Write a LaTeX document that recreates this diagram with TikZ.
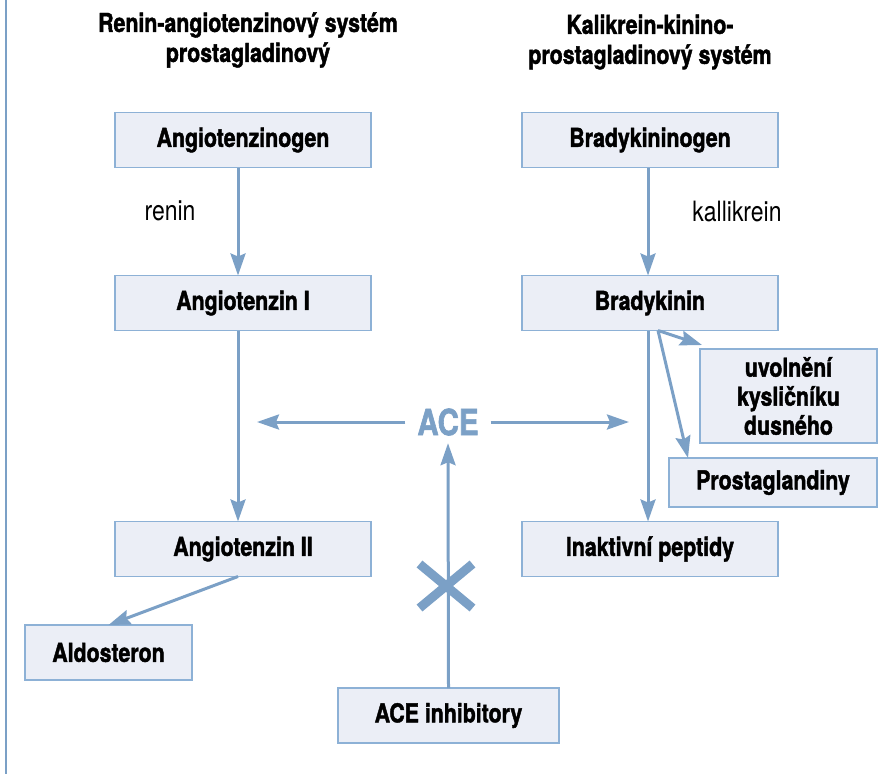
\documentclass[tikz,border=0pt]{standalone}
\usepackage{fontspec}
\setmainfont{TeX Gyre Heros}[FakeStretch=0.82, BoldFeatures={FakeBold=1.6}]
\usepackage{tikz}
\usetikzlibrary{positioning}
\usetikzlibrary{shapes.misc,arrows.meta}
\definecolor{aceblue}{HTML}{7BA0C6}
\definecolor{boxline}{HTML}{8DB1D6}
\definecolor{boxfill}{HTML}{EBEEF6}
\tikzstyle{block} = [rectangle, draw=boxline, fill=boxfill, line width=1.4pt,
                minimum width=256pt, minimum height=55pt, inner sep=0pt, outer sep=0pt,
                align=center, font=\fontsize{26}{29}\selectfont\bfseries]
\tikzstyle{line} = [draw=aceblue, line width=3pt, -{Stealth[length=22pt,width=15pt,inset=3pt]}]
\tikzstyle{enzyme} = [font=\fontsize{28}{30}\selectfont]
\tikzstyle{title} = [align=center, font=\fontsize{26}{30}\selectfont\bfseries]

\begin{document}
\begin{tikzpicture}[x=1pt, y=1pt]
            \useasboundingbox (0,0) rectangle (882,-774);
            \draw[aceblue, line width=2pt] (6,0) -- (6,-774);
            \node[title] (lefttitle) at (248,-40) {Renin-angiotenzinový systém\\ prostagladinový};
            \node[title] (righttitle) at (650,-42) {Kalikrein-kinino-\\ prostagladinový systém};
            \node[block] (angen) at (243,-140) {Angiotenzinogen};
            \node[block, right=151pt of angen] (bkgen) {Bradykininogen};
            \node[block, below=108pt of angen] (ang1) {Angiotenzin I};
            \node[block, below=108pt of bkgen] (bkin) {Bradykinin};
            \node[block, below=191pt of ang1] (ang2) {Angiotenzin II};
            \node[block, below=191pt of bkin] (inakt) {Inaktivní peptidy};
            \node[block, minimum width=167pt] (aldo) at (108.5,-652.5) {Aldosteron};
            \node[block, minimum width=177pt, minimum height=94pt] (no) at (788.5,-396) {uvolnění\\ kysličníku\\ dusného};
            \node[block, minimum width=208pt, minimum height=49pt] (prost) at (773,-482.5) {Prostaglandiny};
            \node[block, minimum width=221pt] (inhib) at (448.5,-715.5) {ACE inhibitory};
            \node[enzyme] (renin) at (170,-211) {renin};
            \node[enzyme] (kalli) at (737,-211) {kallikrein};
            \node[text=aceblue, minimum width=85pt, minimum height=42pt, inner sep=0pt,
                  font=\fontsize{36}{40}\selectfont\bfseries] (ace) at (448,-422) {ACE};
            \coordinate (aceleft) at (257,-422);
            \coordinate (aceright) at (629,-422);
            \coordinate (fork) at ([xshift=8pt]bkin.south);
            \node[cross out, draw=aceblue, line width=9pt, minimum width=44pt, minimum height=35pt] (block) at (446,-586) {};
            \path[line] ([xshift=-5pt]angen.south) -- ([xshift=-5pt]ang1.north);
            \path[line] ([xshift=-2pt]bkgen.south) -- ([xshift=-2pt]bkin.north);
            \path[line] ([xshift=-5pt]ang1.south) -- ([xshift=-5pt]ang2.north);
            \path[line] ([xshift=-5pt]ang2.south) -- (aldo.north);
            \path[line] ([xshift=-2pt]bkin.south) -- ([xshift=-2pt]inakt.north);
            \path[line] (fork) -- ([xshift=2pt,yshift=4pt]no.north west);
            \path[line] (fork) -- ([xshift=19pt]prost.north west);
            \path[line] (ace.west) -- (aceleft);
            \path[line] (ace.east) -- (aceright);
            \path[line] (inhib.north) -- (ace.south);
        \end{tikzpicture}
\end{document}
